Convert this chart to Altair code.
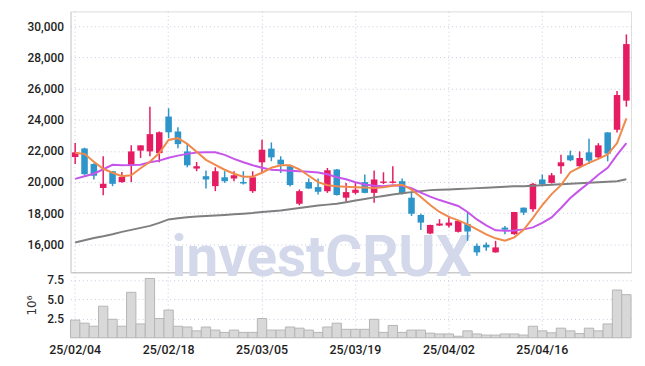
import altair as alt
import pandas as pd

dates = ["25/02/04", "25/02/05", "25/02/06", "25/02/07", "25/02/10", "25/02/11", "25/02/12", "25/02/13",
         "25/02/14", "25/02/17", "25/02/18", "25/02/19", "25/02/20", "25/02/21", "25/02/24", "25/02/25",
         "25/02/26", "25/02/27", "25/02/28", "25/03/04", "25/03/05", "25/03/06", "25/03/07", "25/03/10",
         "25/03/11", "25/03/12", "25/03/13", "25/03/14", "25/03/17", "25/03/18", "25/03/19", "25/03/20",
         "25/03/21", "25/03/24", "25/03/25", "25/03/26", "25/03/27", "25/03/28", "25/03/31", "25/04/01",
         "25/04/02", "25/04/03", "25/04/04", "25/04/07", "25/04/08", "25/04/09", "25/04/10", "25/04/11",
         "25/04/14", "25/04/15", "25/04/16", "25/04/17", "25/04/18", "25/04/21", "25/04/22", "25/04/23",
         "25/04/24", "25/04/25", "25/04/28", "25/04/29"]

opens = [21600, 22150, 21150, 19620, 20690, 19990, 21070, 22010, 21960, 21850,
         24200, 23240, 21960, 20860, 20370, 19730, 20300, 20220, 20000, 19410,
         21260, 22140, 21430, 21010, 18600, 19990, 19670, 19410, 20800, 18990,
         19300, 19990, 19300, 19940, 19940, 20050, 18990, 17880, 16690, 17200,
         17200, 16800, 17290, 15900, 15970, 15480, 17070, 16650, 18350, 18250,
         20160, 19940, 21010, 21710, 21010, 21900, 21580, 23180, 23350, 25220]
highs = [22500, 22200, 21200, 21650, 20700, 20640, 22350, 22350, 24830, 23240,
         24730, 23510, 22490, 21280, 20730, 20940, 20690, 20690, 20690, 20690,
         22710, 22540, 21650, 21050, 19520, 20220, 20220, 20900, 20830, 19940,
         19940, 20480, 20730, 20620, 21010, 20220, 19300, 17960, 17260, 17610,
         17820, 17510, 18030, 16050, 16120, 16220, 17180, 18080, 18360, 19940,
         20480, 20580, 21750, 22010, 21960, 22770, 22490, 23200, 25840, 29470]
lows = [21150, 20450, 20150, 19140, 19730, 19950, 19990, 21540, 21650, 21260,
        22810, 22170, 20940, 20690, 19580, 19410, 19940, 20050, 19840, 19300,
        20580, 21330, 20580, 19710, 18500, 19560, 19200, 19300, 19130, 18730,
        19200, 19280, 18670, 19860, 19900, 19200, 17820, 16910, 16650, 17180,
        17070, 16750, 16220, 15270, 15590, 15460, 16650, 16610, 17880, 18090,
        19730, 19900, 20520, 21330, 20960, 21150, 21500, 21330, 23180, 24830]
closes = [21900, 20500, 20400, 19880, 19880, 20320, 21960, 22350, 23070, 23190,
          23190, 22430, 21070, 21010, 20160, 20690, 20050, 20430, 19900, 20300,
          22070, 21580, 21120, 19800, 19410, 19580, 19370, 20750, 19160, 19350,
          19500, 19300, 20160, 20030, 20030, 19240, 17960, 17390, 17240, 17330,
          17390, 17500, 16820, 15480, 15800, 15800, 16940, 18070, 18030, 19880,
          19840, 20430, 21260, 21390, 21540, 21370, 22350, 21820, 25580, 28850]
volumes = [2.3, 1.9, 1.5, 4.1, 2.4, 1.5, 5.9, 1.8, 7.7, 2.5,
           3.6, 1.5, 1.4, 0.9, 1.4, 1.0, 0.7, 1.0, 0.7, 0.7,
           2.5, 1.0, 1.0, 1.4, 1.25, 1.0, 0.7, 1.4, 1.9, 1.1,
           1.1, 1.1, 2.4, 0.7, 1.6, 0.7, 1.0, 1.0, 0.6, 0.5,
           0.5, 0.2, 0.9, 0.5, 0.35, 0.35, 0.5, 0.5, 0.35, 1.5,
           0.9, 0.65, 1.25, 0.9, 0.55, 1.25, 0.9, 1.8, 6.2, 5.6]
ma5 = [21855, 21804, 21294, 20847, 20592, 20369, 20433, 20879, 21294, 21855,
       22697, 22812, 22442, 21932, 21421, 21102, 20784, 20528, 20337, 20337,
       20592, 20911, 21071, 21071, 20815, 20401, 19986, 19795, 19731, 19699,
       19667, 19648, 19604, 19667, 19763, 19827, 19508, 19030, 18519, 18073,
       17754, 17531, 17276, 16957, 16638, 16383, 16223, 16446, 16925, 17690,
       18519, 19221, 19795, 20624, 20943, 21230, 21485, 21772, 22493, 24087]
ma20 = [20197, 20369, 20528, 20815, 21102, 21071, 21083, 21109, 21262, 21370,
        21549, 21689, 21804, 21887, 21900, 21900, 21740, 21485, 21262, 21071,
        20911, 20784, 20752, 20720, 20688, 20656, 20611, 20496, 20305, 20178,
        19986, 19840, 19763, 19731, 19795, 19763, 19604, 19317, 19061, 18838,
        18647, 18456, 18073, 17595, 17212, 16893, 16861, 16880, 16957, 17084,
        17371, 17722, 18328, 18966, 19476, 19954, 20465, 20911, 21740, 22493]
ma60 = [16115, 16255, 16402, 16510, 16638, 16797, 16925, 17052, 17180, 17371,
        17595, 17671, 17735, 17779, 17818, 17850, 17882, 17926, 17964, 18009,
        18073, 18124, 18169, 18251, 18328, 18411, 18487, 18545, 18596, 18698,
        18806, 18902, 19010, 19093, 19189, 19272, 19348, 19412, 19476, 19501,
        19521, 19546, 19572, 19604, 19635, 19667, 19699, 19718, 19731, 19763,
        19795, 19827, 19859, 19891, 19922, 19954, 19986, 20018, 20050, 20178]

tick_dates = ["25/02/04", "25/02/18", "25/03/05", "25/03/19", "25/04/02", "25/04/16"]
price_ticks = [16000, 18000, 20000, 22000, 24000, 26000, 28000, 30000]
vol_ticks = [2.5, 5.0, 7.5]
watermark = ["investCRUX"]

df = pd.DataFrame({"date": dates, "open": opens, "high": highs, "low": lows,
                   "close": closes, "vol": volumes, "ma5": ma5, "ma20": ma20, "ma60": ma60})
df["dir"] = ["up" if c >= o else "down" for o, c in zip(opens, closes)]

FONT = "Roboto"
RED = "#e61c62"
BLUE = "#2d95c9"
GRID = "#c6cbdf"

xscale = alt.Scale(paddingInner=0, paddingOuter=0)
x_top = alt.X("date:O", scale=xscale,
              axis=alt.Axis(values=tick_dates, labels=False, ticks=False, title=None,
                            domain=True, domainColor="#bdbdbd", grid=True,
                            gridColor=GRID, gridDash=[1, 3]))
yscale = alt.Scale(domain=[14200, 30950], nice=False, zero=False)
y_axis = alt.Axis(values=price_ticks, format=",d", title=None, ticks=False,
                  domain=True, domainColor="#d0d0d0", grid=True, gridColor=GRID,
                  gridDash=[1, 3], labelFont=FONT, labelFontSize=12, labelColor="#1e1e1e",
                  labelFontWeight=500, labelPadding=7, labelOverlap=False)
color = alt.Color("dir:N", scale=alt.Scale(domain=["up", "down"], range=[RED, BLUE]), legend=None)

base = alt.Chart(df)
wm = alt.Chart(pd.DataFrame({"t": watermark})).mark_text(
    font="Roboto", fontSize=57, fontWeight="bold", color="#d3d8ea", align="center",
    baseline="alphabetic").encode(x=alt.value(253), y=alt.value(267), text="t:N")
wick = base.mark_rule(strokeWidth=1.5).encode(
    x=x_top, y=alt.Y("low:Q", scale=yscale, axis=y_axis), y2="high:Q", color=color)
body = base.mark_bar(width={"band": 0.7}).encode(
    x=x_top, y=alt.Y("open:Q", scale=yscale, axis=y_axis), y2="close:Q", color=color)
l60 = base.mark_line(strokeWidth=2, color="#7f7f7f").encode(
    x=x_top, y=alt.Y("ma60:Q", scale=yscale, axis=y_axis))
l20 = base.mark_line(strokeWidth=2, color="#c655ea").encode(
    x=x_top, y=alt.Y("ma20:Q", scale=yscale, axis=y_axis))
l5 = base.mark_line(strokeWidth=2, color="#f08a4c").encode(
    x=x_top, y=alt.Y("ma5:Q", scale=yscale, axis=y_axis))

top = alt.layer(wm, wick, body, l60, l20, l5).properties(
    width=565, height=263, view=alt.ViewBackground(stroke="#dddddd"))

x_bot = alt.X("date:O", scale=xscale,
              axis=alt.Axis(values=tick_dates, labelAngle=0, title=None, ticks=False,
                            domain=False, grid=True, gridColor=GRID, gridDash=[1, 3],
                            labelFont=FONT, labelFontSize=12.5, labelColor="#1e1e1e",
                            labelFontWeight=500, labelPadding=6, labelOverlap=False))
y_vol = alt.Y("vol:Q", scale=alt.Scale(domain=[0, 8.5], nice=False),
              axis=alt.Axis(values=vol_ticks, format=".1f", title="10⁶", ticks=False,
                            domain=False, grid=True, gridColor=GRID, gridDash=[1, 3],
                            labelFont=FONT, labelFontSize=12, labelColor="#1e1e1e",
                            labelFontWeight=500, labelPadding=7, labelOverlap=False,
                            titleFont="DejaVu Sans", titleFontSize=12,
                            titleFontWeight="normal", titleColor="#333", titlePadding=8))
vol = base.mark_bar(fill="#d8d8d8", stroke="#b5b5b5", strokeWidth=1).encode(
    x=x_bot, y=y_vol).properties(width=565, height=66, view=alt.ViewBackground(stroke=None))

chart = alt.vconcat(top, vol, spacing=0, bounds="flush").properties(
    padding={"left": 18, "top": 1, "right": 5, "bottom": 5},
    background="white").configure_axis(labelOverlap=False)

chart.save("out.html", embed_options={"renderer": "svg", "actions": False})
